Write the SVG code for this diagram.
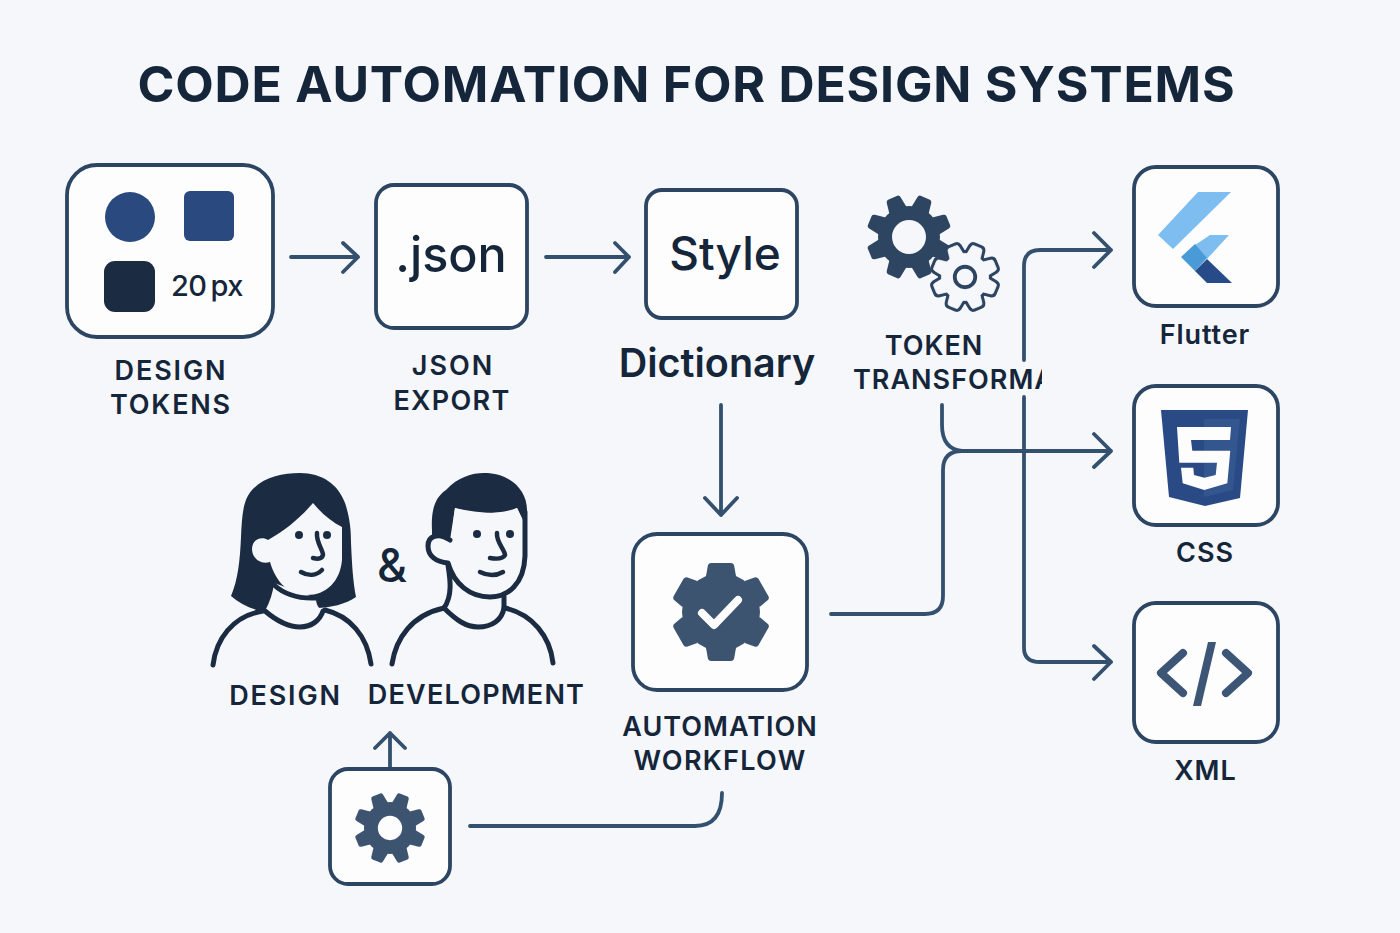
<svg xmlns="http://www.w3.org/2000/svg" xmlns:xlink="http://www.w3.org/1999/xlink" width="1400" height="933" viewBox="0 0 1400 933">
  <style>
    text { font-family: Inter, "Liberation Sans", sans-serif; fill: #15263a; text-anchor: middle; }
    .label { font-size: 27px; font-weight: 600; letter-spacing: 1px; }
    .card { fill: #fdfdfe; stroke: #2c4562; stroke-width: 3.8; }
    .wire { fill: none; stroke: #34506f; stroke-width: 3.8; stroke-linecap: round; stroke-linejoin: round; }
    .ink { fill: #1a2b42; }
    .line { fill: none; stroke: #1a2b42; stroke-width: 5; stroke-linecap: round; stroke-linejoin: round; }
    .skin { fill: #f5f7fa; }
  </style>
  <defs>
    <path id="tooth" d="M-9.5 -27 L-7.5 -40 Q-7 -42.5 -5 -42.5 H5 Q7 -42.5 7.5 -40 L9.5 -27Z"/>
    <g id="gear8">
      <circle r="31"/>
      <use href="#tooth" transform="rotate(22.5)"/>
      <use href="#tooth" transform="rotate(67.5)"/>
      <use href="#tooth" transform="rotate(112.5)"/>
      <use href="#tooth" transform="rotate(157.5)"/>
      <use href="#tooth" transform="rotate(202.5)"/>
      <use href="#tooth" transform="rotate(247.5)"/>
      <use href="#tooth" transform="rotate(292.5)"/>
      <use href="#tooth" transform="rotate(337.5)"/>
    </g>
    <path id="cog" d="M-15 -36 L-13 -47 Q-12 -49 -10 -49 H10 Q12 -49 13 -47 L15 -36Z"/>
    <clipPath id="transformClip"><rect x="840" y="360" width="202" height="40"/></clipPath>
  </defs>

  <rect width="1400" height="933" fill="#f5f7fa"/>

  <text x="686.5" y="102" font-size="50" font-weight="650" letter-spacing="0.8">CODE AUTOMATION FOR DESIGN SYSTEMS</text>

  <g id="connectors">
    <path class="wire" d="M291 257H358M343 243L358 257L343 272"/>
    <path class="wire" d="M546 257H629M615 243L629 257L615 272"/>
    <path class="wire" d="M721 405V515M705 498L721 515L737 498"/>
    <path class="wire" d="M1024 360V266Q1024 250 1040 250H1111M1094 233L1111 250L1094 267"/>
    <path class="wire" d="M831 614H925Q943 614 943 596V470Q943 451 962 451H1111M1094 434L1111 451L1094 467"/>
    <path class="wire" d="M942 405V425Q942 449 962 451"/>
    <path class="wire" d="M1024 397V648Q1024 662 1040 662H1111M1094 646L1111 662L1094 679"/>
    <path class="wire" d="M470 826H695Q722 826 722 793"/>
    <path class="wire" d="M390 768V733M375 748L390 733L405 748"/>
  </g>

  <g id="design-tokens">
    <rect class="card" x="67" y="165" width="206" height="172" rx="30"/>
    <circle cx="130" cy="217" r="25" fill="#2a4a7f"/>
    <rect x="184" y="191" width="50" height="50" rx="6" fill="#2a4a7f"/>
    <rect x="104" y="261" width="51" height="51" rx="11" fill="#1a2b42"/>
    <text x="207" y="296" font-size="29" font-weight="500" letter-spacing="-0.6" word-spacing="-3">20 px</text>
    <text class="label" x="171" y="380" style="letter-spacing:1.9px">DESIGN</text>
    <text class="label" x="171" y="414" style="letter-spacing:1.8px">TOKENS</text>
  </g>

  <g id="json-export">
    <rect class="card" x="376" y="185" width="151" height="143" rx="18"/>
    <text x="451" y="272" font-size="48.5" font-weight="500">.json</text>
    <text class="label" x="453" y="375" style="letter-spacing:2px">JSON</text>
    <text class="label" x="452" y="410" style="letter-spacing:1.3px">EXPORT</text>
  </g>

  <g id="style-dictionary">
    <rect class="card" x="646" y="190" width="151" height="128" rx="16"/>
    <text x="725" y="270" font-size="46" font-weight="500">Style</text>
    <text x="717" y="377" font-size="39.5" font-weight="600">Dictionary</text>
  </g>

  <g id="token-transform">
    <g fill="#2e4562" transform="translate(909 237)">
      <use href="#gear8"/>
      <circle r="17" fill="#f5f7fa"/>
    </g>
    <g transform="translate(965 277) scale(.76)">
      <use href="#gear8" fill="#2e4562" stroke="#2e4562" stroke-width="9" stroke-linejoin="round"/>
      <use href="#gear8" fill="#f5f7fa" stroke="#f5f7fa" stroke-width="1"/>
      <circle r="13.5" fill="none" stroke="#2e4562" stroke-width="5"/>
    </g>
    <text class="label" x="934" y="355">TOKEN</text>
    <text class="label" x="853" y="389" style="text-anchor:start" clip-path="url(#transformClip)">TRANSFORMA</text>
  </g>

  <g id="flutter">
    <rect class="card" x="1134" y="167" width="144" height="139" rx="22"/>
    <path fill="#7dbdf0" d="M1198 192H1231L1173 249L1158 235Z"/>
    <path fill="#7dbdf0" d="M1210 235H1229L1207 259L1195 245Z"/>
    <path fill="#4a9ad8" d="M1181 257L1195 244L1207 258L1195 271Z"/>
    <path fill="#274a88" d="M1207 259L1232 283H1207L1195 271Z"/>
    <text x="1205" y="344" font-size="27" font-weight="600" letter-spacing="0.9">Flutter</text>
  </g>

  <g id="css">
    <rect class="card" x="1134" y="386" width="144" height="139" rx="22"/>
    <path fill="#2a4a85" d="M1161 410H1248L1240 498L1205 506L1169 497Z"/>
    <path fill="#33568f" d="M1204 419H1240L1233 490L1204 497Z"/>
    <path fill="#fdfdfe" d="M1177 427H1231L1230 440H1191L1192.3 450.7H1230.3L1227.3 483.3L1204.3 490L1182.7 483.3L1181 467.7H1193.3L1194 475L1204.3 477.7L1215.7 475L1217 462.7H1179.3Z"/>
    <text class="label" x="1205" y="562">CSS</text>
  </g>

  <g id="xml">
    <rect class="card" x="1134" y="603" width="144" height="139" rx="22"/>
    <path fill="none" stroke="#3d5675" stroke-width="8" stroke-linecap="round" stroke-linejoin="round" d="M1183 653L1161 673L1183 693M1226 653L1248 673L1226 693"/>
    <path fill="#3d5675" d="M1208 642H1216L1201 706H1193Z"/>
    <text class="label" x="1205.5" y="780">XML</text>
  </g>

  <g id="automation-workflow">
    <rect class="card" x="633" y="534" width="174" height="156" rx="24"/>
    <g fill="#3d5471" transform="translate(721 612)">
      <circle r="39"/>
      <use href="#cog"/>
      <use href="#cog" transform="rotate(60)"/>
      <use href="#cog" transform="rotate(120)"/>
      <use href="#cog" transform="rotate(180)"/>
      <use href="#cog" transform="rotate(240)"/>
      <use href="#cog" transform="rotate(300)"/>
    </g>
    <path fill="none" stroke="#fdfdfe" stroke-width="8" stroke-linecap="round" stroke-linejoin="round" d="M702 613L714 625L738 600"/>
    <text class="label" x="720" y="736">AUTOMATION</text>
    <text class="label" x="720" y="770" style="letter-spacing:1.3px">WORKFLOW</text>
  </g>

  <g id="gear-trigger">
    <rect class="card" x="330" y="769" width="120" height="115" rx="18"/>
    <g fill="#3d5471" transform="translate(390 828) scale(.84)">
      <use href="#gear8"/>
      <circle r="14.5" fill="#fdfdfe"/>
    </g>
  </g>

  <g id="designer">
    <path class="ink" d="M231 596C238 580 240 560 241 537C242 515 243 500 252 490C264 477 282 473 300 473C322 473 338 484 345 503C350 518 351 530 351 543C352 565 353 582 356 597C346 604 330 608 316 608L266 612C252 610 240 604 231 596Z"/>
    <path class="skin" d="M274 583C273 592 270 602 265 611C278 622 290 627 300 627C312 627 320 620 323 611C318 608 316 604 316 598Z"/>
    <path class="skin" d="M268 540C286 530 300 518 313 503C322 514 332 522 342 527V560C340 582 326 595 307 595C288 595 276 582 270 562C260 565 252 558 252 549C252 539 262 536 268 540Z"/>
    <circle class="ink" cx="299" cy="535" r="4"/>
    <circle class="ink" cx="327" cy="535" r="4"/>
    <path class="line" style="stroke-width:4.5" d="M317 533C316 542 323 550 323 555C322 559 317 559 313 558"/>
    <path class="line" style="stroke-width:4.5" d="M301 572C308 576 316 576 322 570"/>
    <path class="line" d="M274 585C284 594 296 599 316 598"/>
    <path class="line" d="M265 611C278 622 290 627 300 627C312 627 320 620 323 611"/>
    <path class="line" d="M213 665C216 640 232 616 263 611"/>
    <path class="line" d="M325 610C350 616 367 636 371 664"/>
  </g>

  <text x="392" y="582" font-size="46" font-weight="500">&amp;</text>

  <g id="developer">
    <path class="ink" d="M432 530C431 512 434 498 446 490C458 477 472 473 484 473C510 473 527 490 527 510V530L517 508C505 515 480 514 455 508C453 520 453 530 450 541C444 538 438 534 432 535Z"/>
    <path class="skin" d="M455 508C470 514 500 515 517 508L525 524V556C524 582 508 597 490 597C470 597 454 584 448 563C436 562 428 556 428 546C428 536 438 532 450 540Z"/>
    <path class="line" d="M450 540C438 532 428 536 428 546C428 556 436 562 448 563C454 584 470 597 490 597C508 597 524 584 525 556V512"/>
    <circle class="ink" cx="477" cy="534" r="4"/>
    <circle class="ink" cx="510" cy="534" r="4"/>
    <path class="line" style="stroke-width:4.5" d="M497 533C496 542 505 550 505 555C503 559 496 559 490 558"/>
    <path class="line" style="stroke-width:4.5" d="M480 572C488 576 496 576 503 572"/>
    <path class="line" d="M448 565C450 578 453 595 444 608"/>
    <path class="line" d="M504 597V608"/>
    <path class="line" d="M444 608C456 620 466 627 478 627C492 627 502 620 504 608"/>
    <path class="line" d="M392 664C396 638 412 615 444 608"/>
    <path class="line" d="M505 608C532 614 550 636 553 663"/>
  </g>

  <text class="label" x="285.5" y="705" style="letter-spacing:1.8px">DESIGN</text>
  <text class="label" x="476.5" y="704" style="letter-spacing:1.2px">DEVELOPMENT</text>
</svg>
